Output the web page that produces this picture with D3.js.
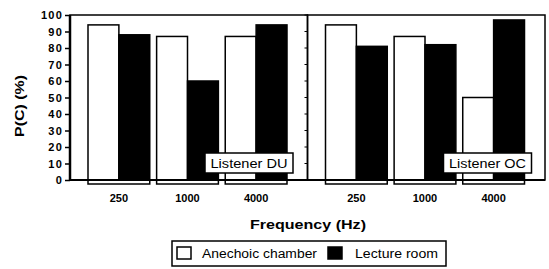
<!DOCTYPE html>
<html>
<head>
<meta charset="utf-8">
<script src="https://cdn.jsdelivr.net/npm/d3@7"></script>
<style>
  body { margin: 0; background: #fff; }
  text { font-family: "Liberation Sans", Arial, sans-serif; fill: #000; }
</style>
</head>
<body>
<svg id="chart" width="549" height="269"></svg>
<script>
// data
var frequencies = ["250", "1000", "4000"];
var listeners = ["Listener DU", "Listener OC"];
var series = ["Anechoic chamber", "Lecture room"];
var anechoic = [[94, 87, 87], [94, 87, 50]];
var lecture = [[88, 60, 94], [81, 82, 97]];
var yTicks = [0, 10, 20, 30, 40, 50, 60, 70, 80, 90, 100];

var svg = d3.select("#chart");
var colors = d3.scaleOrdinal().domain(series).range(["#fff", "#000"]);

var panelX = d3.scaleBand().domain(listeners).range([70, 545]);
var groupX = d3.scaleBand().domain(frequencies).range([18, 217]).paddingInner(0.1);
var barX = d3.scaleBand().domain(series).range([0, groupX.bandwidth()]);
var y = d3.scaleLinear().domain([0, 100]).range([180, 15]);

// y axis
var yAxis = svg.append("g")
    .attr("transform", "translate(70,0)")
    .call(d3.axisLeft(y).tickValues(yTicks).tickSize(5).tickPadding(3));
yAxis.select(".domain").remove();
yAxis.selectAll("text")
    .attr("font-size", 11)
    .attr("font-weight", "bold")
    .attr("dx", 1)
    .style("letter-spacing", "1.2px");
yAxis.selectAll("line").attr("stroke-width", 1.5);

svg.append("text")
    .attr("transform", "translate(24,106) rotate(-90)")
    .attr("text-anchor", "middle")
    .attr("font-size", 13)
    .attr("font-weight", "bold")
    .attr("textLength", 62)
    .attr("lengthAdjust", "spacingAndGlyphs")
    .text("P(C) (%)");

listeners.forEach(function (name, p) {
    var g = svg.append("g").attr("transform", "translate(" + panelX(name) + ",0)");
    var w = panelX.bandwidth();

    // bars
    frequencies.forEach(function (f, i) {
        var vals = [anechoic[p][i], lecture[p][i]];
        g.selectAll(null)
            .data(series.map(function (s, k) { return { s: s, v: vals[k] }; }))
            .enter().append("rect")
            .attr("x", function (d) { return groupX(f) + barX(d.s); })
            .attr("y", function (d) { return y(d.v); })
            .attr("width", barX.bandwidth())
            .attr("height", function (d) { return y(0) - y(d.v); })
            .attr("fill", function (d) { return colors(d.s); })
            .attr("stroke", "#000")
            .attr("stroke-width", 1.5);

        // bracket under each group
        var x0 = groupX(f), x1 = groupX(f) + groupX.bandwidth();
        g.append("path")
            .attr("d", "M" + x0 + "," + (y(0) + 1) + "V" + (y(0) + 4) + "H" + x1 + "V" + (y(0) + 1))
            .attr("fill", "none")
            .attr("stroke", "#000")
            .attr("stroke-width", 1.5);

        g.append("text")
            .attr("x", groupX(f) + groupX.bandwidth() / 2)
            .attr("y", 202)
            .attr("text-anchor", "middle")
            .attr("font-size", 11)
            .attr("font-weight", "bold")
            .text(f);
    });

    // panel frame
    g.append("rect")
        .attr("x", 0).attr("y", y(100))
        .attr("width", w).attr("height", y(0) - y(100))
        .attr("fill", "none")
        .attr("stroke", "#000")
        .attr("stroke-width", 1.5);

    if (p > 0) {
        g.selectAll(null).data(yTicks).enter().append("line")
            .attr("x1", -3).attr("x2", 0)
            .attr("y1", function (d) { return y(d); })
            .attr("y2", function (d) { return y(d); })
            .attr("stroke", "#000");
    }

    // listener label
    var lx = p === 0 ? 135 : 136;
    var lb = g.append("g").attr("transform", "translate(" + lx + ",153)");
    lb.append("rect")
        .attr("width", 88).attr("height", 20)
        .attr("fill", "#fff").attr("stroke", "#000").attr("stroke-width", 1.5);
    lb.append("text")
        .attr("x", 44).attr("y", 15)
        .attr("text-anchor", "middle")
        .attr("font-size", 12)
        .attr("textLength", 77)
        .attr("lengthAdjust", "spacingAndGlyphs")
        .text(name);
});

// left axis and baseline drawn thicker
svg.append("line")
    .attr("x1", 70).attr("x2", 70)
    .attr("y1", y(100)).attr("y2", y(0))
    .attr("stroke", "#000").attr("stroke-width", 2.5);
svg.append("line")
    .attr("x1", 70).attr("x2", 545)
    .attr("y1", y(0)).attr("y2", y(0))
    .attr("stroke", "#000").attr("stroke-width", 2);

svg.append("text")
    .attr("x", 308).attr("y", 229)
    .attr("text-anchor", "middle")
    .attr("font-size", 13)
    .attr("font-weight", "bold")
    .attr("textLength", 116)
    .attr("lengthAdjust", "spacingAndGlyphs")
    .text("Frequency (Hz)");

// legend
var legend = svg.append("g").attr("transform", "translate(172,241)");
legend.append("rect")
    .attr("width", 274).attr("height", 25)
    .attr("fill", "#fff").attr("stroke", "#000").attr("stroke-width", 1.5);
var items = legend.selectAll("g.item")
    .data(series)
    .enter().append("g")
    .attr("class", "item")
    .attr("transform", function (d, i) { return "translate(" + (i === 0 ? 5 : 156) + ",6)"; });
items.append("rect")
    .attr("width", 14).attr("height", 12)
    .attr("fill", function (d) { return colors(d); })
    .attr("stroke", "#000").attr("stroke-width", 1.5);
items.append("text")
    .attr("x", function (d, i) { return i === 0 ? 25 : 27; })
    .attr("y", 11)
    .attr("font-size", 12)
    .attr("textLength", function (d, i) { return i === 0 ? 115 : 83; })
    .attr("lengthAdjust", "spacingAndGlyphs")
    .text(function (d) { return d; });
</script>
</body>
</html>
